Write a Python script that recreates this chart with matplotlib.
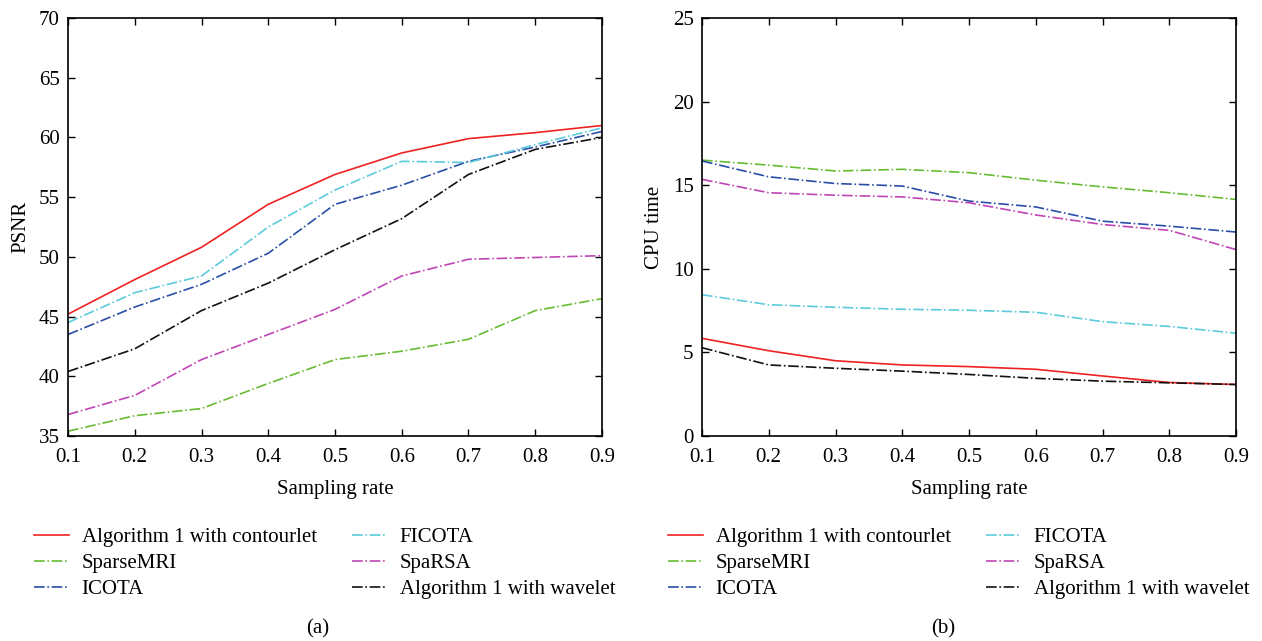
import matplotlib
matplotlib.use("Agg")
import matplotlib.pyplot as plt

plt.rcParams['font.family'] = ['Liberation Serif', 'DejaVu Serif']

sampling = [0.1, 0.2, 0.3, 0.4, 0.5, 0.6, 0.7, 0.8, 0.9]
labels = ["Algorithm 1 with contourlet", "SparseMRI", "ICOTA",
          "FICOTA", "SpaRSA", "Algorithm 1 with wavelet"]

psnr_contourlet = [45.2, 48.1, 50.8, 54.4, 56.9, 58.7, 59.9, 60.4, 61.0]
psnr_sparsemri = [35.4, 36.7, 37.3, 39.4, 41.4, 42.1, 43.1, 45.5, 46.5]
psnr_icota = [43.5, 45.8, 47.7, 50.3, 54.4, 56.0, 58.0, 59.2, 60.5]
psnr_ficota = [44.5, 47.0, 48.4, 52.5, 55.6, 58.0, 57.9, 59.4, 60.8]
psnr_sparsa = [36.8, 38.4, 41.4, 43.5, 45.6, 48.4, 49.8, 49.95, 50.1]
psnr_wavelet = [40.4, 42.3, 45.5, 47.8, 50.6, 53.2, 56.9, 59.0, 60.0]

cpu_contourlet = [5.84, 5.1, 4.5, 4.25, 4.15, 3.99, 3.59, 3.2, 3.08]
cpu_sparsemri = [16.5, 16.2, 15.85, 15.95, 15.75, 15.3, 14.9, 14.55, 14.15]
cpu_icota = [16.45, 15.5, 15.1, 14.95, 14.05, 13.7, 12.85, 12.55, 12.2]
cpu_ficota = [8.45, 7.85, 7.7, 7.58, 7.52, 7.4, 6.84, 6.55, 6.15]
cpu_sparsa = [15.35, 14.55, 14.4, 14.3, 13.95, 13.22, 12.65, 12.3, 11.15]
cpu_wavelet = [5.28, 4.25, 4.05, 3.88, 3.68, 3.45, 3.28, 3.18, 3.08]

colors = ["#ee2222", "#66bb33", "#2a4ea6", "#5ccbdb", "#c045b5", "#111111"]
styles = ["-", "-.", "-.", "-.", "-.", "-."]

fig = plt.figure(figsize=(12.62, 6.41), dpi=100)
ax1 = fig.add_axes([68/1262, 1-436/641, 534/1262, 418/641])
ax2 = fig.add_axes([702/1262, 1-436/641, 534/1262, 418/641])

psnr = [psnr_contourlet, psnr_sparsemri, psnr_icota, psnr_ficota, psnr_sparsa, psnr_wavelet]
cpu = [cpu_contourlet, cpu_sparsemri, cpu_icota, cpu_ficota, cpu_sparsa, cpu_wavelet]

FS = 15

def style_axes(ax, ylim, yticks, ylabel):
    ax.set_xlim(0.1, 0.9)
    ax.set_ylim(*ylim)
    ax.set_xticks(sampling)
    ax.set_xticklabels([f"{v:.1f}" for v in sampling])
    ax.set_yticks(yticks)
    ax.tick_params(direction='in', top=True, right=True, length=5, width=1.0,
                   labelsize=FS)
    ax.tick_params(axis='x', pad=9)
    ax.tick_params(axis='y', pad=6)
    for s in ax.spines.values():
        s.set_linewidth(1.2)
    ax.set_xlabel("Sampling rate", fontsize=FS, labelpad=9)
    ax.set_ylabel(ylabel, fontsize=FS, labelpad=6)

handles = []
for vals, c, ls, lab in zip(psnr, colors, styles, labels):
    h, = ax1.plot(sampling, vals, color=c, linestyle=ls, linewidth=1.2, label=lab)
    handles.append(h)
for vals, c, ls, lab in zip(cpu, colors, styles, labels):
    ax2.plot(sampling, vals, color=c, linestyle=ls, linewidth=1.2, label=lab)

style_axes(ax1, (35, 70), range(35, 71, 5), "PSNR")
style_axes(ax2, (0, 25), range(0, 26, 5), "CPU time")

for xa in [15/1262, 649/1262]:
    fig.legend(handles, labels, ncol=2, loc='upper left',
               bbox_to_anchor=(xa, 1-509/641), frameon=False, fontsize=FS,
               handlelength=1.68, handletextpad=0.62, columnspacing=1.68,
               labelspacing=0.31)

fig.text(318/1262, 1-629/641, "(a)", ha='center', va='center', fontsize=FS)
fig.text(943/1262, 1-629/641, "(b)", ha='center', va='center', fontsize=FS)

fig.savefig("out.png", dpi=100)
